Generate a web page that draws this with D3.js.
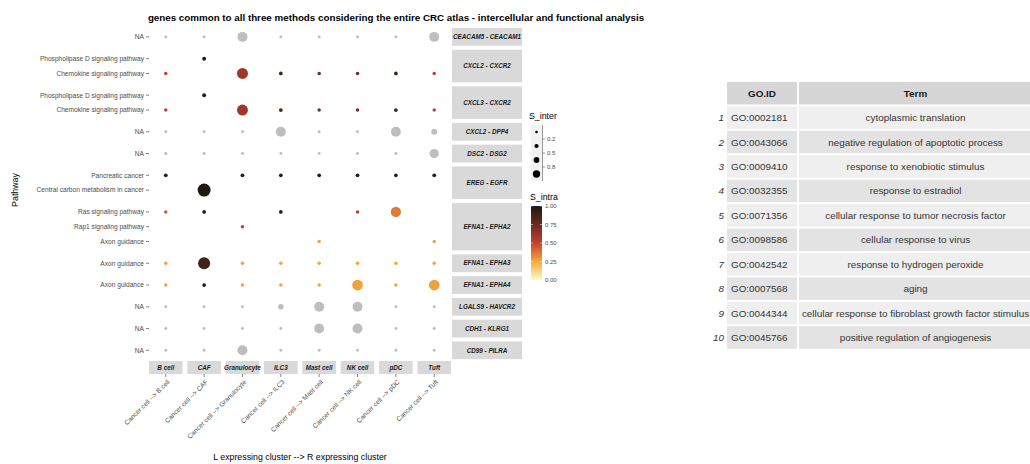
<!DOCTYPE html>
<html>
<head>
<meta charset="utf-8">
<script src="https://cdn.jsdelivr.net/npm/d3@7"></script>
<style>
  body { margin: 0; background: #fff; }
  svg { display: block; }
  text { font-family: "Liberation Sans", Arial, sans-serif; }
</style>
</head>
<body>
<svg id="chart" width="1030" height="464"></svg>
<script>
// ---- data ----
const cellTypes = ["B cell", "CAF", "Granulocyte", "ILC3", "Mast cell", "NK cell", "pDC", "Tuft"];

const pairs = ["CEACAM5 - CEACAM1", "CXCL2 - CXCR2", "CXCL3 - CXCR2", "CXCL2 - DPP4", "DSC2 - DSG2",
  "EREG - EGFR", "EFNA1 - EPHA2", "EFNA1 - EPHA3", "EFNA1 - EPHA4", "LGALS9 - HAVCR2",
  "CDH1 - KLRG1", "CD99 - PILRA"];

// one entry per plotted row, top to bottom
const rowPair = [0, 1, 1, 2, 2, 3, 4, 5, 5, 6, 6, 6, 7, 8, 9, 10, 11];
const rowPathway = ["NA",
  "Phospholipase D signaling pathway", "Chemokine signaling pathway",
  "Phospholipase D signaling pathway", "Chemokine signaling pathway",
  "NA", "NA",
  "Pancreatic cancer", "Central carbon metabolism in cancer",
  "Ras signaling pathway", "Rap1 signaling pathway", "Axon guidance",
  "Axon guidance", "Axon guidance", "NA", "NA", "NA"];

// S_inter per row x cell type (null = no point)
const sInter = [
  [0.05, 0.05, 0.57, 0.05, 0.05, 0.05, 0.05, 0.57],
  [null, 0.09, null, null, null, null, null, null],
  [0.07, null, 0.69, 0.08, 0.07, 0.07, 0.08, 0.07],
  [null, 0.09, null, null, null, null, null, null],
  [0.07, null, 0.69, 0.08, 0.07, 0.07, 0.08, 0.07],
  [0.05, 0.05, 0.05, 0.57, 0.05, 0.05, 0.57, 0.2],
  [0.05, 0.05, 0.05, 0.05, 0.05, 0.05, 0.05, 0.5],
  [0.08, null, 0.08, 0.08, 0.08, 0.08, 0.08, 0.08],
  [null, 0.97, null, null, null, null, null, null],
  [0.07, 0.08, null, 0.08, null, 0.07, 0.6, null],
  [null, null, 0.07, null, null, null, null, null],
  [null, null, null, null, 0.07, null, null, 0.07],
  [0.07, 0.83, 0.07, 0.07, 0.07, 0.07, 0.07, 0.07],
  [0.07, 0.08, 0.07, 0.07, 0.07, 0.66, 0.07, 0.66],
  [0.05, 0.05, 0.05, 0.17, 0.57, 0.57, 0.05, 0.05],
  [0.05, 0.05, 0.05, 0.05, 0.57, 0.57, 0.05, 0.05],
  [0.05, 0.05, 0.57, 0.05, 0.05, 0.05, 0.05, 0.05]
];

// S_intra per row x cell type (null = NA, drawn grey)
const sIntra = [
  [null, null, null, null, null, null, null, null],
  [null, 0.97, null, null, null, null, null, null],
  [0.5, null, 0.6, 0.85, 0.72, 0.72, 0.88, 0.5],
  [null, 0.97, null, null, null, null, null, null],
  [0.5, null, 0.6, 0.85, 0.72, 0.72, 0.88, 0.5],
  [null, null, null, null, null, null, null, null],
  [null, null, null, null, null, null, null, null],
  [0.96, null, 0.96, 0.96, 0.96, 0.96, 0.96, 0.96],
  [null, 1.0, null, null, null, null, null, null],
  [0.42, 0.96, null, 0.96, null, 0.5, 0.36, null],
  [null, null, 0.52, null, null, null, null, null],
  [null, null, null, null, 0.26, null, null, 0.26],
  [0.26, 0.88, 0.26, 0.26, 0.26, 0.26, 0.26, 0.26],
  [0.26, 0.96, 0.26, 0.26, 0.26, 0.27, 0.26, 0.27],
  [null, null, null, null, null, null, null, null],
  [null, null, null, null, null, null, null, null],
  [null, null, null, null, null, null, null, null]
];

const interBreaks = ["0.2", "0.5", "0.8"];
const interKeys = [0.05, 0.35, 0.65, 0.95];
const intraBreaks = [0, 0.25, 0.5, 0.75, 1];

const goIds = ["GO:0002181", "GO:0043066", "GO:0009410", "GO:0032355", "GO:0071356",
  "GO:0098586", "GO:0042542", "GO:0007568", "GO:0044344", "GO:0045766"];
const goTerms = ["cytoplasmic translation", "negative regulation of apoptotic process",
  "response to xenobiotic stimulus", "response to estradiol",
  "cellular response to tumor necrosis factor", "cellular response to virus",
  "response to hydrogen peroxide", "aging",
  "cellular response to fibroblast growth factor stimulus", "positive regulation of angiogenesis"];

const titleText = "genes common to all three methods considering the entire CRC atlas - intercellular and functional analysis";

// ---- layout ----
const svg = d3.select("#chart");
const plotLeft = 149, plotRight = 451;
const panelTop = 28, panelBottom = 359.2, vGap = 4;
const axisGrey = "#4d4d4d", stripFill = "#d9d9d9", naGrey = "#bebebe";
const tickFont = "6.6px";

let x = d3.scaleBand().domain(cellTypes).range([plotLeft, plotRight]).paddingInner(0.125);

let colour = d3.scaleLinear()
  .domain([0, 0.25, 0.5, 0.75, 1])
  .range(["#fffbc8", "#f4a83e", "#c4402f", "#6a2a1e", "#1e1a12"]);

let radius = d3.scaleSqrt().domain([0, 1]).range([0, 6.6]);

// pathways per pair (top to bottom)
let pairRows = pairs.map((p, i) => rowPathway.filter((d, j) => rowPair[j] == i));
let nUnits = d3.sum(pairRows, d => d.length + 0.2);
let unit = (panelBottom - panelTop - vGap * (pairs.length - 1)) / nUnits;

let panels = [];
let yCursor = panelTop;
pairs.forEach((p, i) => {
  let h = (pairRows[i].length + 0.2) * unit;
  let y = d3.scalePoint().domain(pairRows[i]).range([yCursor, yCursor + h]).padding(0.6);
  panels.push({pair: p, top: yCursor, height: h, y: y});
  yCursor += h + vGap;
});

// title
let title = svg.append("text")
  .attr("x", 396).attr("y", 21)
  .attr("text-anchor", "middle")
  .style("font-weight", "bold")
  .style("font-size", "10px")
  .attr("fill", "#000")
  .text(titleText);
let tw = title.node().getComputedTextLength();
title.style("font-size", (10 * 497 / tw) + "px");

// y axis: labels and ticks
let yAxis = svg.append("g").attr("class", "yAxis");
rowPathway.forEach((pw, j) => {
  let panel = panels[rowPair[j]];
  let yy = panel.y(pw);
  yAxis.append("line")
    .attr("x1", plotLeft - 3).attr("x2", plotLeft)
    .attr("y1", yy).attr("y2", yy)
    .attr("stroke", "#333").attr("stroke-width", 0.6);
  yAxis.append("text")
    .attr("x", plotLeft - 5).attr("y", yy)
    .attr("dy", "0.35em")
    .attr("text-anchor", "end")
    .style("font-size", tickFont)
    .attr("fill", axisGrey)
    .text(pw);
});

// right strips
let rStrips = svg.selectAll("g.rstrip").data(panels).enter().append("g").attr("class", "rstrip");
rStrips.append("rect")
  .attr("x", 452).attr("y", d => d.top)
  .attr("width", 70).attr("height", d => d.height)
  .attr("fill", stripFill);
rStrips.append("text")
  .attr("x", 487).attr("y", d => d.top + d.height / 2)
  .attr("dy", "0.35em")
  .attr("text-anchor", "middle")
  .style("font-size", "6.3px").style("font-weight", "bold").style("font-style", "italic")
  .attr("fill", "#1a1a1a")
  .text(d => d.pair);

// bottom strips, ticks and labels
let bStrips = svg.selectAll("g.bstrip").data(cellTypes).enter().append("g").attr("class", "bstrip");
bStrips.append("rect")
  .attr("x", d => x(d)).attr("y", 361)
  .attr("width", x.bandwidth()).attr("height", 13)
  .attr("fill", stripFill);
bStrips.append("text")
  .attr("x", d => x(d) + x.bandwidth() / 2).attr("y", 367.5)
  .attr("dy", "0.35em")
  .attr("text-anchor", "middle")
  .style("font-size", "6.3px").style("font-weight", "bold").style("font-style", "italic")
  .attr("fill", "#1a1a1a")
  .text(d => d);
bStrips.append("line")
  .attr("x1", d => x(d) + x.bandwidth() / 2).attr("x2", d => x(d) + x.bandwidth() / 2)
  .attr("y1", 374).attr("y2", 377)
  .attr("stroke", "#333").attr("stroke-width", 0.6);
bStrips.append("text")
  .attr("transform", d => "translate(" + (x(d) + x.bandwidth() / 2 + 2) + ",380) rotate(-45)")
  .attr("text-anchor", "end")
  .attr("dy", "0.5em")
  .style("font-size", tickFont)
  .attr("fill", axisGrey)
  .text(d => "Cancer cell --> " + d);

// points
let pts = [];
rowPathway.forEach((pw, j) => {
  cellTypes.forEach((c, k) => {
    if (sInter[j][k] != null)
      pts.push({panel: panels[rowPair[j]], pathway: pw, cell: c, inter: sInter[j][k], intra: sIntra[j][k]});
  });
});
svg.append("g").attr("class", "points").selectAll("circle").data(pts).enter().append("circle")
  .attr("cx", d => x(d.cell) + x.bandwidth() / 2)
  .attr("cy", d => d.panel.y(d.pathway))
  .attr("r", d => radius(d.inter))
  .attr("fill", d => d.intra == null ? naGrey : colour(d.intra));

// axis titles
svg.append("text")
  .attr("transform", "translate(18,190) rotate(-90)")
  .attr("text-anchor", "middle")
  .style("font-size", "8.8px")
  .attr("fill", "#000")
  .text("Pathway");
svg.append("text")
  .attr("x", (plotLeft + plotRight) / 2).attr("y", 460)
  .attr("text-anchor", "middle")
  .style("font-size", "8.8px")
  .attr("fill", "#000")
  .text("L expressing cluster --> R expressing cluster");

// legend: S_inter (binned)
let lg = svg.append("g").attr("class", "legend");
lg.append("text").attr("x", 529).attr("y", 119)
  .style("font-size", "8.8px").attr("fill", "#000").text("S_inter");
let keyY = d3.scaleBand().domain(d3.range(interKeys.length)).range([125, 181]);
let legendRadius = d3.scaleLinear().domain([0, 1]).range([1.2, 3.8]);
lg.append("rect").attr("x", 531).attr("y", 125).attr("width", 11).attr("height", 56).attr("fill", "#f2f2f2");
lg.selectAll("circle").data(interKeys).enter().append("circle")
  .attr("cx", 536.5)
  .attr("cy", (d, i) => keyY(i) + keyY.bandwidth() / 2)
  .attr("r", d => legendRadius(d))
  .attr("fill", "#000");
lg.append("line").attr("x1", 542.5).attr("x2", 542.5).attr("y1", 125).attr("y2", 181)
  .attr("stroke", "#333").attr("stroke-width", 0.5);
interBreaks.forEach((b, i) => {
  let yy = keyY(i + 1);
  lg.append("line").attr("x1", 542.5).attr("x2", 545).attr("y1", yy).attr("y2", yy)
    .attr("stroke", "#333").attr("stroke-width", 0.5);
  lg.append("text").attr("x", 547).attr("y", yy).attr("dy", "0.35em")
    .style("font-size", "6px").attr("fill", axisGrey).text(b);
});

// legend: S_intra (colour bar)
lg.append("text").attr("x", 530).attr("y", 200)
  .style("font-size", "8.8px").attr("fill", "#000").text("S_intra");
let barY = d3.scaleLinear().domain([0, 1]).range([280, 206]);
let grad = svg.append("defs").append("linearGradient").attr("id", "intraGrad")
  .attr("x1", 0).attr("y1", 1).attr("x2", 0).attr("y2", 0);
d3.range(0, 1.0001, 0.05).forEach(t => {
  grad.append("stop").attr("offset", t).attr("stop-color", colour(t));
});
lg.append("rect").attr("x", 531).attr("y", barY(1)).attr("width", 11).attr("height", barY(0) - barY(1))
  .attr("fill", "url(#intraGrad)");
intraBreaks.forEach(b => {
  let yy = barY(b);
  lg.append("line").attr("x1", 531).attr("x2", 533).attr("y1", yy).attr("y2", yy).attr("stroke", "#fff").attr("stroke-width", 0.5);
  lg.append("line").attr("x1", 540).attr("x2", 542).attr("y1", yy).attr("y2", yy).attr("stroke", "#fff").attr("stroke-width", 0.5);
  lg.append("text").attr("x", 545).attr("y", yy).attr("dy", "0.35em")
    .style("font-size", "6px").attr("fill", axisGrey).text(d3.format(".2f")(b));
});

// ---- GO table ----
let tbl = svg.append("g").attr("class", "table");
let rowY = d3.scaleBand().domain(d3.range(goIds.length + 1)).range([82, 82 + 24.25 * 11]).paddingInner(0.08);
let colIdX = 727, colIdW = 70, colTermX = 799, colTermW = 233;
const tableFont = "9.9px";

tbl.append("rect").attr("x", colIdX).attr("y", rowY(0)).attr("width", colIdW).attr("height", rowY.bandwidth()).attr("fill", "#d6d6d6");
tbl.append("rect").attr("x", colTermX).attr("y", rowY(0)).attr("width", colTermW).attr("height", rowY.bandwidth()).attr("fill", "#d6d6d6");
tbl.append("text").attr("x", colIdX + colIdW / 2).attr("y", rowY(0) + rowY.bandwidth() / 2).attr("dy", "0.35em")
  .attr("text-anchor", "middle").style("font-size", tableFont).style("font-weight", "bold").attr("fill", "#1a1a1a").text("GO.ID");
tbl.append("text").attr("x", colTermX + colTermW / 2).attr("y", rowY(0) + rowY.bandwidth() / 2).attr("dy", "0.35em")
  .attr("text-anchor", "middle").style("font-size", tableFont).style("font-weight", "bold").attr("fill", "#1a1a1a").text("Term");

goIds.forEach((id, i) => {
  let yy = rowY(i + 1), hh = rowY.bandwidth();
  let fill = i % 2 == 0 ? "#efefef" : "#e3e3e3";
  tbl.append("rect").attr("x", colIdX).attr("y", yy).attr("width", colIdW).attr("height", hh).attr("fill", fill);
  tbl.append("rect").attr("x", colTermX).attr("y", yy).attr("width", colTermW).attr("height", hh).attr("fill", fill);
  tbl.append("text").attr("x", colIdX - 3).attr("y", yy + hh / 2).attr("dy", "0.35em")
    .attr("text-anchor", "end").style("font-size", tableFont).style("font-style", "italic").attr("fill", "#333").text(i + 1);
  tbl.append("text").attr("x", colIdX + 4).attr("y", yy + hh / 2).attr("dy", "0.35em")
    .style("font-size", tableFont).attr("fill", "#333").text(id);
  tbl.append("text").attr("x", colTermX + colTermW / 2).attr("y", yy + hh / 2).attr("dy", "0.35em")
    .attr("text-anchor", "middle").style("font-size", tableFont).attr("fill", "#333").text(goTerms[i]);
});
</script>
</body>
</html>
